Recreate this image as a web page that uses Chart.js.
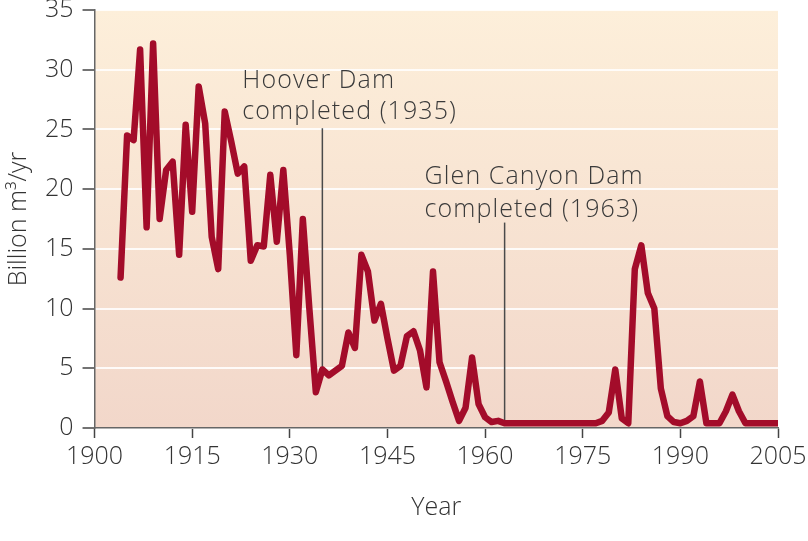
<!DOCTYPE html>
<html>
<head>
<meta charset="utf-8">
<script src="https://cdn.jsdelivr.net/npm/chart.js@4.4.1/dist/chart.umd.min.js"></script>
<style>
  html, body { margin: 0; padding: 0; background: #fff; }
  #wrap { width: 808px; height: 541px; }
</style>
</head>
<body>
<div id="wrap"><canvas id="myChart" width="808" height="541"></canvas></div>
<script>
// Colorado River flow reaching the delta, billion m3 per year
const anios = [];
for (let a = 1904; a <= 2005; a++) anios.push(a);

const caudal = [
  12.6, 24.5, 24.1, 31.7, 16.8, 32.2, 17.5, 21.6, 22.3, 14.5,   // 1904-1913
  25.4, 18.1, 28.6, 25.5, 16.0, 13.3, 26.5, 24.0, 21.3, 21.9,   // 1914-1923
  14.0, 15.3, 15.2, 21.2, 15.6, 21.6, 14.5, 6.1, 17.5, 10.0,    // 1924-1933
  3.0, 4.9, 4.4, 4.8, 5.2, 8.0, 6.7, 14.5, 13.1, 9.0,           // 1934-1943
  10.4, 7.5, 4.8, 5.2, 7.7, 8.1, 6.5, 3.4, 13.1, 5.5,           // 1944-1953
  3.9, 2.2, 0.6, 1.7, 5.9, 2.0, 0.9, 0.5, 0.6, 0.4,             // 1954-1963
  0.4, 0.4, 0.4, 0.4, 0.4, 0.4, 0.4, 0.4, 0.4, 0.4,             // 1964-1973
  0.4, 0.4, 0.4, 0.4, 0.6, 1.3, 4.9, 0.8, 0.4, 13.3,            // 1974-1983
  15.3, 11.3, 10.0, 3.3, 1.0, 0.5, 0.4, 0.6, 1.0, 3.9,          // 1984-1993
  0.4, 0.4, 0.4, 1.4, 2.8, 1.4, 0.4, 0.4, 0.4, 0.4,             // 1994-2003
  0.4, 0.4                                                      // 2004-2005
];

// dam annotations
const presas_anio = [1935, 1963];
const presas_texto = [["Hoover Dam", "completed (1935)"], ["Glen Canyon Dam", "completed (1963)"]];
const presas_texto_y = [[28.5, 25.9], [20.4, 17.7]];
const presas_linea_top = [25.1, 17.2];

const fuente = "'Open Sans', 'Noto Sans', sans-serif";
const letra = { family: fuente, size: 25, weight: "300" };

/* fondo degradado */
const fondo = {
  id: "fondo",
  beforeDraw(chart) {
    const { ctx, chartArea: ca } = chart;
    const g = ctx.createLinearGradient(0, ca.top, 0, ca.bottom);
    g.addColorStop(0, "#fdefda");
    g.addColorStop(1, "#f2d7ca");
    ctx.save();
    ctx.fillStyle = g;
    ctx.fillRect(ca.left, ca.top, ca.right - ca.left, ca.bottom - ca.top);
    ctx.restore();
  }
};

/* lineas y textos de las presas */
const presas = {
  id: "presas",
  beforeDatasetsDraw(chart) {
    const { ctx, scales } = chart;
    ctx.save();
    for (let i = 0; i < presas_anio.length; i++) {
      const x = scales.x.getPixelForValue(presas_anio[i]);
      const v = caudal[anios.indexOf(presas_anio[i])];
      ctx.strokeStyle = "#4a4a4a";
      ctx.lineWidth = 1.5;
      ctx.beginPath();
      ctx.moveTo(x, scales.y.getPixelForValue(presas_linea_top[i]));
      ctx.lineTo(x, scales.y.getPixelForValue(v));
      ctx.stroke();
      ctx.fillStyle = "#3a3a3a";
      ctx.font = "300 25px " + fuente;
      ctx.letterSpacing = "1.1px";
      ctx.textAlign = "left";
      ctx.textBaseline = "alphabetic";
      for (let j = 0; j < presas_texto[i].length; j++) {
        ctx.fillText(presas_texto[i][j], x - 80, scales.y.getPixelForValue(presas_texto_y[i][j]));
      }
    }
    ctx.restore();
  }
};

const data = {
  datasets: [{
    data: anios.map((a, i) => ({ x: a, y: caudal[i] })),
    borderColor: "#a30c2a",
    borderWidth: 6.5,
    borderJoinStyle: "round",
    borderCapStyle: "round",
    pointRadius: 0,
    tension: 0,
    fill: false
  }]
};

const config = {
  type: "line",
  data,
  plugins: [fondo, presas],
  options: {
    responsive: false,
    animation: false,
    layout: { padding: { top: 0, right: 0, bottom: 14, left: 2 } },
    plugins: { legend: { display: false }, tooltip: { enabled: false } },
    scales: {
      x: {
        type: "linear",
        min: 1900,
        max: 2005,
        afterFit(scale) { scale.paddingRight = 30; },
        ticks: { stepSize: 15, color: "#333", font: letra, padding: 4,
                 callback: (v) => String(v) },
        grid: { drawOnChartArea: false, tickLength: 10, tickColor: "#444", tickWidth: 1.5 },
        border: { color: "#666", width: 1.5 },
        title: { display: true, text: "Year", color: "#333", font: letra, padding: { top: 17, bottom: 4 } }
      },
      y: {
        min: 0,
        max: 35,
        afterFit(scale) { scale.paddingTop = 10; },
        ticks: { stepSize: 5, color: "#333", font: letra, padding: 9 },
        grid: { color: "rgba(255,255,255,0.85)", lineWidth: 2, tickLength: 12, tickColor: "#444", tickWidth: 1.5 },
        border: { color: "#666", width: 1.5 },
        title: { display: true, text: "Billion m³/yr", color: "#333", font: letra, padding: 2 }
      }
    }
  }
};

const ctx = document.getElementById("myChart").getContext("2d");
const myChart = new Chart(ctx, config);
</script>
</body>
</html>
